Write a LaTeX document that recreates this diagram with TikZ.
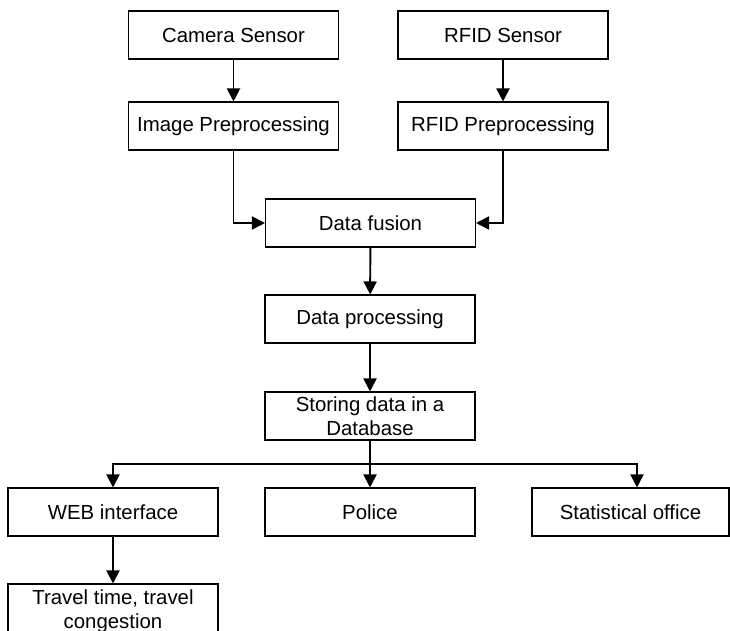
\documentclass[tikz,border=0pt]{standalone}
\usepackage{fontspec}
\setmainfont{Liberation Sans}
\usetikzlibrary{positioning,arrows.meta,calc}

\begin{document}
\begin{tikzpicture}[
	block/.style={draw, rectangle, line width=0.6pt, fill=white, minimum width=4.2cm, minimum height=0.96cm, inner sep=2pt, align=center, font=\fontsize{11.6}{13.7}\selectfont},
	arr/.style={line width=1.1pt, -{Triangle[length=0.26cm,width=0.26cm]}}
	]
				\clip (0,0) rectangle (14.6,-12.62);
				\node[block] (cam) at (4.67, -0.70) {Camera Sensor};
				\node[block] (rfid) at (10.06, -0.70) {RFID Sensor};
				\node[block] (imgpre) at (4.67, -2.52) {Image Preprocessing};
				\node[block] (rfidpre) at (10.06, -2.52) {RFID Preprocessing};
				\node[block] (fusion) at (7.41, -4.46) {Data fusion};
				\node[block] (proc) at (7.40, -6.38) {Data processing};
				\node[block] (store) at (7.40, -8.32) {Storing data in a\\Database};
				\node[block] (web) at (2.26, -10.24) {WEB interface};
				\node[block] (police) at (7.40, -10.24) {Police};
				\node[block, minimum width=3.94cm] (stat) at (12.61, -10.24) {Statistical office};
				\node[block, minimum height=1.08cm] (travel) at (2.26, -12.22) {Travel time, travel\\congestion};
				\coordinate (split) at ($(store.south)!0.5!(police.north)$);
				\draw[arr] (cam) -- (imgpre);
				\draw[arr] (rfid) -- (rfidpre);
				\draw[arr] (imgpre.south) |- (fusion.west);
				\draw[arr] (rfidpre.south) |- (fusion.east);
				\draw[arr] (fusion) -- (proc);
				\draw[arr] (proc) -- (store);
				\draw[arr] (store) -- (police);
				\draw[arr] (split) -| (web.north);
				\draw[arr] (split) -| ($(stat.north)+(0.13,0)$);
				\draw[arr] (web) -- (travel);
\end{tikzpicture}
\end{document}
